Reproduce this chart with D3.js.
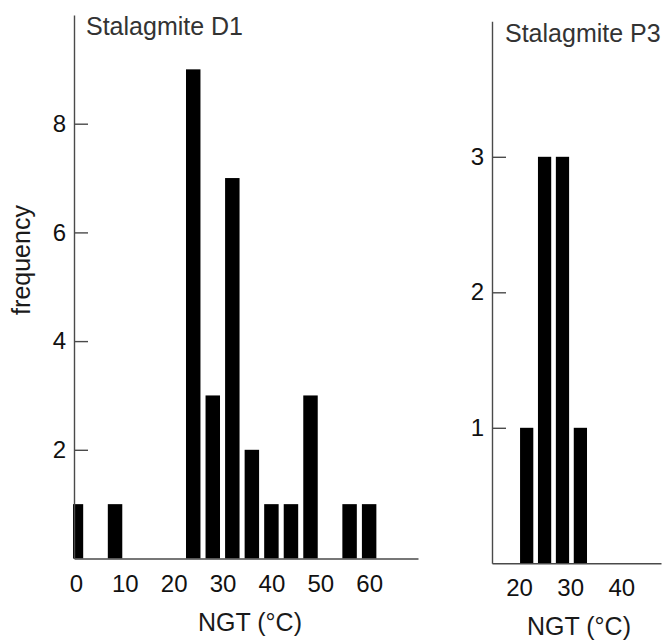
<!DOCTYPE html>
<html>
<head>
<meta charset="utf-8">
<script src="https://cdn.jsdelivr.net/npm/d3@7"></script>
<style>
  html, body { margin: 0; padding: 0; background: #fff; }
  svg { display: block; }
  .axis path, .axis line { stroke: #4a4a4a; stroke-width: 1.4; }
  .axis text { font-family: "Liberation Sans", Arial, Helvetica, sans-serif; font-size: 24px; fill: #111; }
  .label { font-family: "Liberation Sans", Arial, Helvetica, sans-serif; font-size: 25px; fill: #1a1a1a; }
  .title { font-family: "Liberation Sans", Arial, Helvetica, sans-serif; font-size: 25px; fill: #333; }
</style>
</head>
<body>
<script>
// Stalagmite D1: NGT histogram (4 °C bins, bin centres) and counts
const d1Centers = [0, 8, 24, 28, 32, 36, 40, 44, 48, 56, 60];
const d1Counts  = [1, 1, 9, 3, 7, 2, 1, 1, 3, 1, 1];
const d1BinWidth = 4;
const d1XTicks = [0, 10, 20, 30, 40, 50, 60];
const d1YTicks = [2, 4, 6, 8];

// Stalagmite P3: NGT histogram (3.5 °C bins, bin centres) and counts
const p3Centers = [21.5, 25, 28.5, 32];
const p3Counts  = [1, 3, 3, 1];
const p3BinWidth = 3.5;
const p3XTicks = [20, 30, 40];
const p3YTicks = [1, 2, 3];

const titles = ["Stalagmite D1", "Stalagmite P3"];
const xLabel = "NGT (°C)";
const yLabel = "frequency";

const W = 671, H = 642;
const svg = d3.select("body").append("svg").attr("width", W).attr("height", H);

const barFill = 0.74; // fraction of each bin covered by its bar

const panels = [
  {
    id: "d1", centers: d1Centers, counts: d1Counts, binWidth: d1BinWidth,
    xTicks: d1XTicks, yTicks: d1YTicks, title: titles[0],
    xDomain: [-0.4, 70], xRange: [74, 418],
    yDomain: [0, 10], yRange: [558.5, 15],
    titlePos: [86, 35], xLabelPos: [250, 631]
  },
  {
    id: "p3", centers: p3Centers, counts: p3Counts, binWidth: p3BinWidth,
    xTicks: p3XTicks, yTicks: p3YTicks, title: titles[1],
    xDomain: [14.72, 47.76], xRange: [492, 661],
    yDomain: [0, 4], yRange: [563.3, 21.3],
    titlePos: [505, 41.5], xLabelPos: [579, 635]
  }
];

panels.forEach(p => {
  const x = d3.scaleLinear().domain(p.xDomain).range(p.xRange);
  const y = d3.scaleLinear().domain(p.yDomain).range(p.yRange);
  const g = svg.append("g");

  // bars are clipped at the vertical axis
  const clipId = "clip-" + p.id;
  svg.append("defs").append("clipPath").attr("id", clipId)
    .append("rect")
    .attr("x", p.xRange[0] - 1).attr("y", 0)
    .attr("width", p.xRange[1] - p.xRange[0] + 1).attr("height", H);

  const bins = p.centers.map((c, i) => ({ c, n: p.counts[i] }));
  g.append("g").attr("clip-path", `url(#${clipId})`)
    .selectAll("rect").data(bins).join("rect")
    .attr("x", d => x(d.c - p.binWidth * barFill / 2))
    .attr("width", d => x(d.c + p.binWidth * barFill / 2) - x(d.c - p.binWidth * barFill / 2))
    .attr("y", d => y(d.n))
    .attr("height", d => y(0) - y(d.n))
    .attr("fill", "#000");

  // y axis: ticks point inward
  g.append("g").attr("class", "axis")
    .attr("transform", `translate(${p.xRange[0]},0)`)
    .call(d3.axisLeft(y).tickValues(p.yTicks).tickSizeInner(-14).tickSizeOuter(0).tickPadding(8).tickFormat(d3.format("d")));

  // x axis: labels only, no tick marks
  g.append("g").attr("class", "axis")
    .attr("transform", `translate(0,${p.yRange[0]})`)
    .call(d3.axisBottom(x).tickValues(p.xTicks).tickSize(0).tickPadding(16).tickFormat(d3.format("d")));

  g.selectAll(".axis .domain").attr("fill", "none");

  g.append("text").attr("class", "title")
    .attr("x", p.titlePos[0]).attr("y", p.titlePos[1])
    .text(p.title);

  g.append("text").attr("class", "label")
    .attr("x", p.xLabelPos[0]).attr("y", p.xLabelPos[1])
    .attr("text-anchor", "middle")
    .text(xLabel);
});

svg.append("text").attr("class", "label")
  .attr("transform", "translate(30,260) rotate(-90)")
  .attr("text-anchor", "middle")
  .text(yLabel);
</script>
</body>
</html>
